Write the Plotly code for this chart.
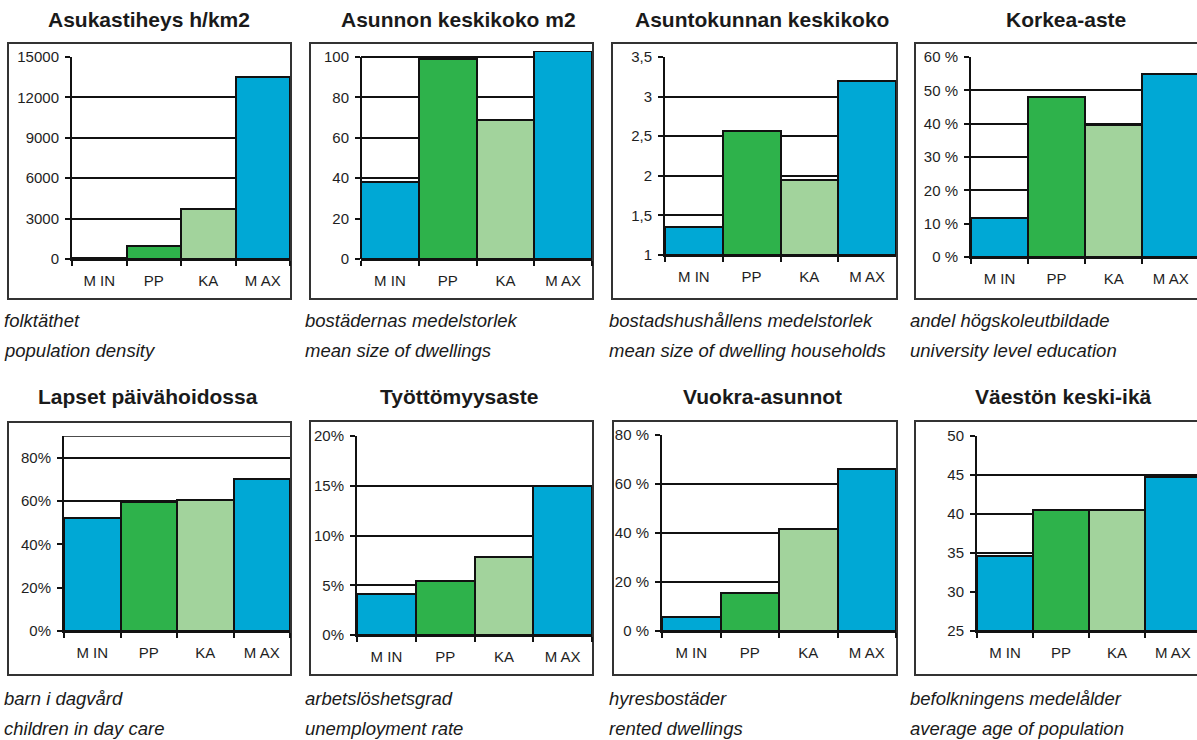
import plotly.graph_objects as go

W, H = 1197, 740

categories = ["MIN", "PP", "KA", "MAX"]
category_labels = ["M IN", "PP", "KA", "M AX"]

titles = ["Asukastiheys h/km2", "Asunnon keskikoko m2", "Asuntokunnan keskikoko", "Korkea-aste",
          "Lapset päivähoidossa", "Työttömyysaste", "Vuokra-asunnot", "Väestön keski-ikä"]
captions_sv = ["folktäthet", "bostädernas medelstorlek", "bostadshushållens medelstorlek",
               "andel högskoleutbildade", "barn i dagvård", "arbetslöshetsgrad",
               "hyresbostäder", "befolkningens medelålder"]
captions_en = ["population density", "mean size of dwellings", "mean size of dwelling households",
               "university level education", "children in day care", "unemployment rate",
               "rented dwellings", "average age of population"]

density = [110, 1000, 3700, 13500]
dwelling_size = [38, 99, 69, 103]
household_size = [1.35, 2.57, 1.95, 3.2]
higher_education = [11.8, 48, 39.5, 55]
day_care = [52.3, 59.7, 60.6, 70]
unemployment = [4.15, 5.4, 7.8, 15]
rented = [5.7, 15.5, 41.7, 66.2]
mean_age = [34.6, 40.5, 40.5, 44.7]

ticks_density = [0, 3000, 6000, 9000, 12000, 15000]
ticks_density_text = ["0", "3000", "6000", "9000", "12000", "15000"]
ticks_dwelling = [0, 20, 40, 60, 80, 100]
ticks_dwelling_text = ["0", "20", "40", "60", "80", "100"]
ticks_household = [1, 1.5, 2, 2.5, 3, 3.5]
ticks_household_text = ["1", "1,5", "2", "2,5", "3", "3,5"]
ticks_education = [0, 10, 20, 30, 40, 50, 60]
ticks_education_text = ["0 %", "10 %", "20 %", "30 %", "40 %", "50 %", "60 %"]
ticks_daycare = [0, 20, 40, 60, 80]
ticks_daycare_text = ["0%", "20%", "40%", "60%", "80%"]
ticks_unemp = [0, 5, 10, 15, 20]
ticks_unemp_text = ["0%", "5%", "10%", "15%", "20%"]
ticks_rented = [0, 20, 40, 60, 80]
ticks_rented_text = ["0 %", "20 %", "40 %", "60 %", "80 %"]
ticks_age = [25, 30, 35, 40, 45, 50]
ticks_age_text = ["25", "30", "35", "40", "45", "50"]

BLUE = "#00A8D5"
GREEN = "#2EB24B"
LIGHT = "#A2D39C"
bar_colors = [BLUE, GREEN, LIGHT, BLUE]

def fx(x):
    return x / W

def fy(y):
    return 1 - y / H

panels = [
    dict(vals=density, tv=ticks_density, tt=ticks_density_text, yr=[0, 15000],
         x=(72, 290), y=(57, 259), xmax=3.5, box=(8, 43, 291, 299)),
    dict(vals=dwelling_size, tv=ticks_dwelling, tt=ticks_dwelling_text, yr=[0, 103],
         x=(361, 592), y=(51, 259), xmax=3.5, box=(310, 43, 593, 299), axis_top=100),
    dict(vals=household_size, tv=ticks_household, tt=ticks_household_text, yr=[1, 3.5],
         x=(665, 896), y=(57, 255), xmax=3.5, box=(612, 43, 897, 299)),
    dict(vals=higher_education, tv=ticks_education, tt=ticks_education_text, yr=[0, 60],
         x=(971, 1197), y=(57, 257), xmax=3.46, box=(915, 43, 1230, 299)),
    dict(vals=day_care, tv=ticks_daycare, tt=ticks_daycare_text, yr=[0, 90],
         x=(64, 290), y=(436, 631), xmax=3.5, box=(8, 422, 291, 675), topline=90),
    dict(vals=unemployment, tv=ticks_unemp, tt=ticks_unemp_text, yr=[0, 20],
         x=(357, 592), y=(436, 635), xmax=3.5, box=(310, 421, 593, 675)),
    dict(vals=rented, tv=ticks_rented, tt=ticks_rented_text, yr=[0, 80],
         x=(662, 896), y=(435, 631), xmax=3.5, box=(613, 421, 897, 675)),
    dict(vals=mean_age, tv=ticks_age, tt=ticks_age_text, yr=[25, 50],
         x=(977, 1197), y=(436, 631), xmax=3.43, box=(915, 421, 1230, 675)),
]

FONT = "Liberation Sans, Arial, sans-serif"
fig = go.Figure()
shapes = []
annotations = []
layout_axes = {}

for i, p in enumerate(panels):
    n = i + 1
    xa = "x" if n == 1 else f"x{n}"
    ya = "y" if n == 1 else f"y{n}"
    ymin = p["yr"][0]
    fig.add_trace(go.Bar(
        x=categories, y=[v - ymin for v in p["vals"]], base=ymin,
        xaxis=xa, yaxis=ya,
        marker=dict(color=bar_colors, line=dict(color="#111111", width=2)),
        width=1.0, showlegend=False, hoverinfo="skip"))
    x0, x1 = p["x"]
    yt, yb = p["y"]
    has_axis_top = "axis_top" in p
    layout_axes[f"xaxis{'' if n == 1 else n}"] = dict(
        domain=[fx(x0), fx(x1)], anchor=ya, type="category",
        categoryorder="array", categoryarray=categories,
        tickvals=categories, ticktext=category_labels,
        range=[-0.5, p["xmax"]], tickson="boundaries", ticks="outside", ticklen=5,
        tickcolor="#111111", tickwidth=1.5,
        showline=True, linecolor="#111111", linewidth=2, showgrid=False,
        ticklabelstandoff=7,
        tickfont=dict(family=FONT, size=15, color="#1e1e1e"), fixedrange=True)
    layout_axes[f"yaxis{'' if n == 1 else n}"] = dict(
        domain=[fy(yb), fy(yt)], anchor=xa, range=p["yr"],
        tickvals=p["tv"], ticktext=p["tt"], ticks="outside", ticklen=5,
        tickcolor="#111111", tickwidth=1.5,
        showline=not has_axis_top, linecolor="#111111", linewidth=2,
        showgrid=True, gridcolor="#111111", gridwidth=1.6, zeroline=False,
        ticklabelstandoff=3,
        tickfont=dict(family=FONT, size=15, color="#1e1e1e"), fixedrange=True)
    if has_axis_top:
        shapes.append(dict(type="line", xref=f"{xa} domain", yref=ya, x0=0, x1=0,
                           y0=ymin, y1=p["axis_top"],
                           line=dict(color="#111111", width=2), layer="above"))
    if "topline" in p:
        shapes.append(dict(type="line", xref=f"{xa} domain", yref=ya, x0=0, x1=1,
                           y0=p["topline"], y1=p["topline"],
                           line=dict(color="#111111", width=1.6), layer="below"))
    bx0, by0, bx1, by1 = p["box"]
    shapes.append(dict(type="rect", xref="paper", yref="paper",
                       x0=fx(bx0), x1=fx(bx1), y0=fy(by1), y1=fy(by0),
                       line=dict(color="#333333", width=2), layer="below"))

title_pos = [(149, 20), (458, 20), (762, 20), (1066, 20),
             (148, 397), (459, 397), (762, 397), (1063, 397)]
cap_pos = [(2, 320, 350), (303, 320, 350), (607, 320, 350), (908, 320, 350),
           (2, 698, 728), (303, 698, 728), (607, 698, 728), (908, 698, 728)]

for i in range(8):
    tx, ty = title_pos[i]
    annotations.append(dict(text=f"<b>{titles[i]}</b>", xref="paper", yref="paper",
                            x=fx(tx), y=fy(ty), xanchor="center", yanchor="middle",
                            showarrow=False,
                            font=dict(family=FONT, size=21, color="#1a1a1a")))
    cx, c1, c2 = cap_pos[i]
    annotations.append(dict(text=f"<i>{captions_sv[i]}</i>", xref="paper", yref="paper",
                            x=fx(cx), y=fy(c1), xanchor="left", yanchor="middle",
                            showarrow=False,
                            font=dict(family=FONT, size=18.5, color="#1a1a1a")))
    annotations.append(dict(text=f"<i>{captions_en[i]}</i>", xref="paper", yref="paper",
                            x=fx(cx), y=fy(c2), xanchor="left", yanchor="middle",
                            showarrow=False,
                            font=dict(family=FONT, size=18.5, color="#1a1a1a")))

fig.update_layout(width=W, height=H,
                  margin=dict(l=0, r=0, t=0, b=0, pad=0, autoexpand=False),
                  paper_bgcolor="white", plot_bgcolor="white",
                  bargap=0, showlegend=False, shapes=shapes, annotations=annotations,
                  **layout_axes)

fig.write_html("out.html", config={"displayModeBar": False},
               post_script="document.body.style.margin='0';document.body.style.overflow='hidden';")
